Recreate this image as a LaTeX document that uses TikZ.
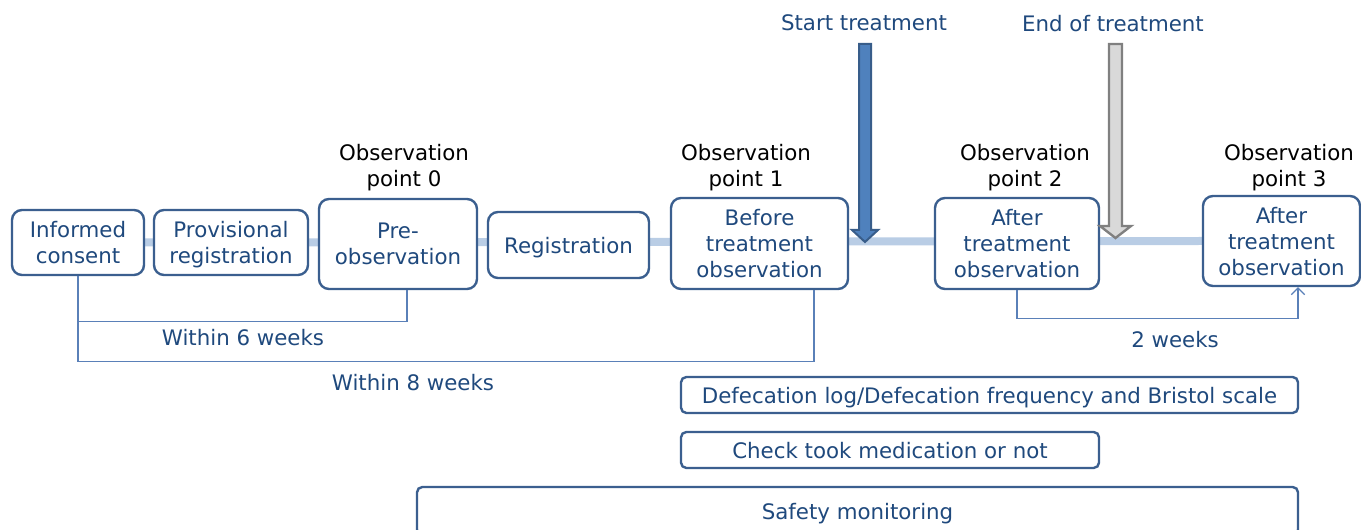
\documentclass[tikz,border=0pt]{standalone}
\usepackage{fontspec}
\setmainfont{DejaVu Sans}
\usepackage{xcolor}
\usetikzlibrary{positioning,backgrounds,arrows.meta}
\definecolor{txtblue}{HTML}{1F497D}
\definecolor{boxblue}{HTML}{3B5F8F}
\definecolor{barblue}{HTML}{B9CDE5}
\definecolor{linkblue}{HTML}{5A80B8}
\definecolor{arrowblue}{HTML}{4F81BD}
\definecolor{arrowedge}{HTML}{385D8A}

\begin{document}
\begin{tikzpicture}[x=0.75pt,y=-0.75pt,
    every node/.style={font=\fontsize{16}{19.5}\selectfont, align=center, inner sep=0pt, text depth=0pt},
    stage/.style={draw=boxblue, line width=1.8pt, rounded corners=7.5pt, fill=white, text=txtblue},
    task/.style={draw=boxblue, line width=1.8pt, rounded corners=4pt, fill=white, text=txtblue},
    note/.style={text=txtblue},
    link/.style={draw=linkblue, line width=0.9pt}]

    \useasboundingbox (0,0) rectangle (1361,530);

    % stages on the time line
    \node[stage, minimum width=99pt, minimum height=48.75pt] (consent) at (78,242.5) {Informed\\consent};
    \node[stage, minimum width=115.5pt, minimum height=48.75pt] (provisional) at (231,242.5) {Provisional\\registration};
    \node[stage, minimum width=118.5pt, minimum height=67.5pt] (preobs) at (398,244) {Pre-\\observation};
    \node[stage, minimum width=120.75pt, minimum height=49.5pt] (registration) at (568.5,245) {Registration};
    \node[stage, minimum width=132.75pt, minimum height=68.25pt] (before) at (759.5,243.5) {Before\\treatment\\observation};
    \node[stage, minimum width=123pt, minimum height=68.25pt] (after) at (1017,243.5) {After\\treatment\\observation};
    \node[stage, minimum width=117.75pt, minimum height=67.5pt] (final) at (1281.5,241) {After\\treatment\\observation};

    \begin{scope}[on background layer]
        \draw[barblue, line width=6pt] (consent.east) -- (final.west);
    \end{scope}

    % observation points
    \node (obs0) at (404,165) {Observation\\point 0};
    \node (obs1) at (746,165) {Observation\\point 1};
    \node (obs2) at (1025,165) {Observation\\point 2};
    \node (obs3) at (1289,165) {Observation\\point 3};

    % treatment markers
    \node[note] (starttxt) at (864,23) {Start treatment};
    \node[note] (endtxt) at (1113,23) {End of treatment};
    \draw[fill=arrowblue, draw=arrowedge, line width=1.5pt]
        (859,44) -- (871,44) -- (871,230) -- (878,230) -- (865,242)
        -- (852,230) -- (859,230) -- cycle;
    \draw[fill=black!15, draw=black!50, line width=1.8pt]
        (1109,44) -- (1122,44) -- (1122,226) -- (1131,226) -- (1115.5,238)
        -- (1100,226) -- (1109,226) -- cycle;

    % intervals
    \draw[link] (consent.south) -- ++(0,45) -| ([xshift=6.75pt]preobs.south);
    \draw[link] (consent.south) -- ++(0,85) -| ([xshift=40.9pt]before.south);
    \draw[link, -{Straight Barb[length=5pt,width=10pt]}] (after.south) -- ++(0,28) -| ([xshift=12.4pt]final.south);
    \node[note] (six) at (243,337) {Within 6 weeks};
    \node[note] (eight) at (413,382) {Within 8 weeks};
    \node[note] (two) at (1175,339) {2 weeks};

    % assessments
    \node[task, minimum width=462.75pt, minimum height=27pt] (defecation) at (989.5,395) {Defecation log/Defecation frequency and Bristol scale};
    \node[task, minimum width=313.5pt, minimum height=27pt] (check) at (890,450) {Check took medication or not};
    \node[task, minimum width=660.75pt, minimum height=36pt] (safety) at (857.5,511) {Safety monitoring};
\end{tikzpicture}
\end{document}
